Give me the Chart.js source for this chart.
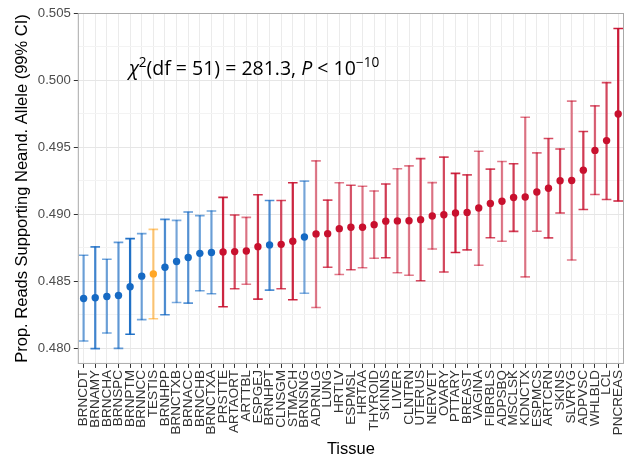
<!DOCTYPE html>
<html>
<head>
<meta charset="utf-8">
<script src="https://cdn.jsdelivr.net/npm/chart.js@4.4.1/dist/chart.umd.min.js"></script>
<style>
  html, body { margin: 0; padding: 0; background: #fff; }
  #wrap { width: 638px; height: 459px; }
</style>
</head>
<body>
<div id="wrap"><canvas id="chart"></canvas></div>
<script>
// tissues, ordered by estimate
const tissues = ["BRNCDT", "BRNAMY", "BRNCHA", "BRNSPC", "BRNPTM", "BRNNCC", "TESTIS", "BRNHPP",
  "BRNCTXB", "BRNACC", "BRNCHB", "BRNCTXA", "PRSTTE", "ARTAORT", "ARTTBL", "ESPGEJ", "BRNHPT",
  "CLNSGM", "STMACH", "BRNSNG", "ADRNLG", "LUNG", "HRTLV", "ESPMSL", "HRTAA", "THYROID", "SKINNS",
  "LIVER", "CLNTRN", "UTERUS", "NERVET", "OVARY", "PTTARY", "BREAST", "VAGINA", "FIBRBLS", "ADPSBQ",
  "MSCLSK", "KDNCTX", "ESPMCS", "ARTCRN", "SKINS", "SLVRYG", "ADPVSC", "WHLBLD", "LCL", "PNCREAS"];

const estimate = [0.48373, 0.48378, 0.48388, 0.48395, 0.48460, 0.48539, 0.48556, 0.48606,
  0.48648, 0.48678, 0.48709, 0.48715, 0.48720, 0.48722, 0.48727, 0.48759, 0.48772,
  0.48776, 0.48799, 0.48831, 0.48854, 0.48856, 0.48893, 0.48903, 0.48904, 0.48923, 0.48949,
  0.48951, 0.48952, 0.48960, 0.48987, 0.48997, 0.49010, 0.49014, 0.49047, 0.49080, 0.49097,
  0.49125, 0.49129, 0.49166, 0.49194, 0.49250, 0.49252, 0.49329, 0.49476, 0.49549, 0.49747];

const lower = [0.48056, 0.47999, 0.48115, 0.48001, 0.48106, 0.48215, 0.48222, 0.48252,
  0.48343, 0.48338, 0.48430, 0.48408, 0.48311, 0.48445, 0.48479, 0.48368, 0.48435,
  0.48445, 0.48363, 0.48412, 0.48306, 0.48606, 0.48551, 0.48587, 0.48602, 0.48672, 0.48676,
  0.48565, 0.48546, 0.48505, 0.48741, 0.48570, 0.48715, 0.48735, 0.48620, 0.48825, 0.48799,
  0.48873, 0.48534, 0.48874, 0.48824, 0.49010, 0.48660, 0.49036, 0.49147, 0.49110, 0.49099];

const upper = [0.48695, 0.48757, 0.48665, 0.48791, 0.48819, 0.48856, 0.48888, 0.48962,
  0.48955, 0.49017, 0.48990, 0.49025, 0.49126, 0.48995, 0.48977, 0.49146, 0.49103,
  0.49103, 0.49235, 0.49247, 0.49398, 0.49106, 0.49235, 0.49216, 0.49209, 0.49174, 0.49226,
  0.49339, 0.49361, 0.49415, 0.49236, 0.49426, 0.49305, 0.49294, 0.49470, 0.49337, 0.49393,
  0.49377, 0.49723, 0.49458, 0.49565, 0.49487, 0.49843, 0.49617, 0.49808, 0.49981, 0.50385];

// error bar opacity, as seen in the picture
const barAlpha = [0.6, 0.8, 0.6, 0.65, 0.95, 0.6, 0.6, 0.75, 0.55, 0.7, 0.6, 0.6,
  0.9, 0.75, 0.55, 0.85, 0.75, 0.75, 0.9, 0.55, 0.55, 0.75, 0.55, 0.7, 0.55, 0.55, 0.8,
  0.55, 0.55, 0.75, 0.55, 0.75, 0.9, 0.75, 0.55, 0.75, 0.55, 0.8, 0.55, 0.6, 0.75,
  0.75, 0.55, 0.8, 0.65, 0.75, 0.95];

const yMajorTicks = [0.480, 0.485, 0.490, 0.495, 0.500, 0.505];
const yMinorTicks = [0.4825, 0.4875, 0.4925, 0.4975, 0.5025];

const BLUE = [22, 106, 196];
const RED = [200, 16, 46];
const ORANGE = [255, 166, 38];
const FONT = "'Liberation Sans', Arial, sans-serif";

function groupColor(name) {
  if (name === "TESTIS") return ORANGE;
  if (name.startsWith("BRN")) return BLUE;
  return RED;
}
const rgba = (c, a) => `rgba(${c[0]},${c[1]},${c[2]},${a})`;

const barColors = tissues.map((t, i) => rgba(groupColor(t), barAlpha[i]));
const dotColors = tissues.map((t) => rgba(groupColor(t), 1));
const isMajor = (v) => yMajorTicks.some((m) => Math.abs(m - v) < 1e-7);

// panel border like the ggplot theme
const panelBorder = {
  id: "panelBorder",
  afterDatasetsDraw(chart) {
    const { ctx, chartArea: a } = chart;
    ctx.save();
    ctx.strokeStyle = "#a9a9a9";
    ctx.lineWidth = 1;
    ctx.strokeRect(a.left + 0.5, a.top + 0.5, a.right - a.left - 1, a.bottom - a.top - 1);
    ctx.restore();
  },
};

// chi-square annotation
const chiLabel = {
  id: "chiLabel",
  afterDraw(chart) {
    const { ctx } = chart;
    const x0 = chart.scales.x.getPixelForValue(3.9);
    const y0 = chart.scales.y.getPixelForValue(0.50040);
    const size = 19.5;
    const fam = "'Open Sans', 'DejaVu Sans', sans-serif";
    const parts = [
      { t: "\u03C7", f: `italic ${size}px ${fam}`, dy: 0 },
      { t: "2", f: `${size * 0.7}px ${fam}`, dy: -size * 0.42 },
      { t: "(df = 51) = 281.3, ", f: `${size}px ${fam}`, dy: 0 },
      { t: "P", f: `italic ${size}px ${fam}`, dy: 0 },
      { t: " < 10", f: `${size}px ${fam}`, dy: 0 },
      { t: "\u221210", f: `${size * 0.7}px ${fam}`, dy: -size * 0.42 },
    ];
    ctx.save();
    ctx.fillStyle = "#000";
    ctx.textBaseline = "alphabetic";
    let x = x0;
    parts.forEach((p) => {
      ctx.font = p.f;
      ctx.fillText(p.t, x, y0 + p.dy);
      x += ctx.measureText(p.t).width;
    });
    ctx.restore();
  },
};

new Chart(document.getElementById("chart"), {
  data: {
    labels: tissues,
    datasets: [
      {
        type: "bar",
        data: tissues.map((t, i) => [lower[i], upper[i]]),
        backgroundColor: barColors,
        barThickness: 1.6,
        grouped: false,
        order: 4,
      },
      {
        type: "line",
        data: upper,
        showLine: false,
        pointStyle: "line",
        pointRadius: 4.8,
        pointHoverRadius: 4.8,
        pointBorderWidth: 1.6,
        pointBorderColor: barColors,
        pointBackgroundColor: barColors,
        order: 3,
      },
      {
        type: "line",
        data: lower,
        showLine: false,
        pointStyle: "line",
        pointRadius: 4.8,
        pointHoverRadius: 4.8,
        pointBorderWidth: 1.6,
        pointBorderColor: barColors,
        pointBackgroundColor: barColors,
        order: 2,
      },
      {
        type: "line",
        data: estimate,
        showLine: false,
        pointStyle: "circle",
        pointRadius: 3.7,
        pointHoverRadius: 3.7,
        pointBorderWidth: 0,
        pointBackgroundColor: dotColors,
        order: 1,
      },
    ],
  },
  options: {
    responsive: true,
    maintainAspectRatio: false,
    animation: false,
    layout: { padding: { left: 13, right: 14, top: 13, bottom: 0 } },
    plugins: { legend: { display: false }, tooltip: { enabled: false } },
    scales: {
      x: {
        type: "category",
        offset: true,
        border: { display: false },
        grid: { offset: false, color: "#ebebeb", lineWidth: 1, tickColor: "#333", tickLength: 4 },
        ticks: {
          autoSkip: false,
          minRotation: 90,
          maxRotation: 90,
          padding: 2,
          color: "#333",
          font: { family: FONT, size: 13.5 },
        },
        title: {
          display: true,
          text: "Tissue",
          color: "#000",
          font: { family: FONT, size: 16.5 },
          padding: { top: 2, bottom: 0 },
        },
      },
      y: {
        type: "linear",
        min: 0.47885,
        max: 0.505,
        border: { display: false },
        afterBuildTicks(scale) {
          scale.ticks = yMajorTicks.concat(yMinorTicks).sort().map((v) => ({ value: v }));
        },
        grid: {
          color: (c) => (isMajor(c.tick.value) ? "#e6e6e6" : "#f3f3f3"),
          lineWidth: 1,
          tickLength: 4,
          tickColor: (c) => (isMajor(c.tick.value) ? "#333" : "rgba(0,0,0,0)"),
        },
        ticks: {
          padding: 3,
          color: "#4d4d4d",
          font: { family: FONT, size: 13.2 },
          callback: (v) => (isMajor(v) ? v.toFixed(3) : ""),
        },
        title: {
          display: true,
          text: "Prop. Reads Supporting Neand. Allele (99% CI)",
          color: "#000",
          font: { family: FONT, size: 16.5 },
          padding: { top: 0, bottom: 2 },
        },
      },
    },
  },
  plugins: [panelBorder, chiLabel],
});
</script>
</body>
</html>
